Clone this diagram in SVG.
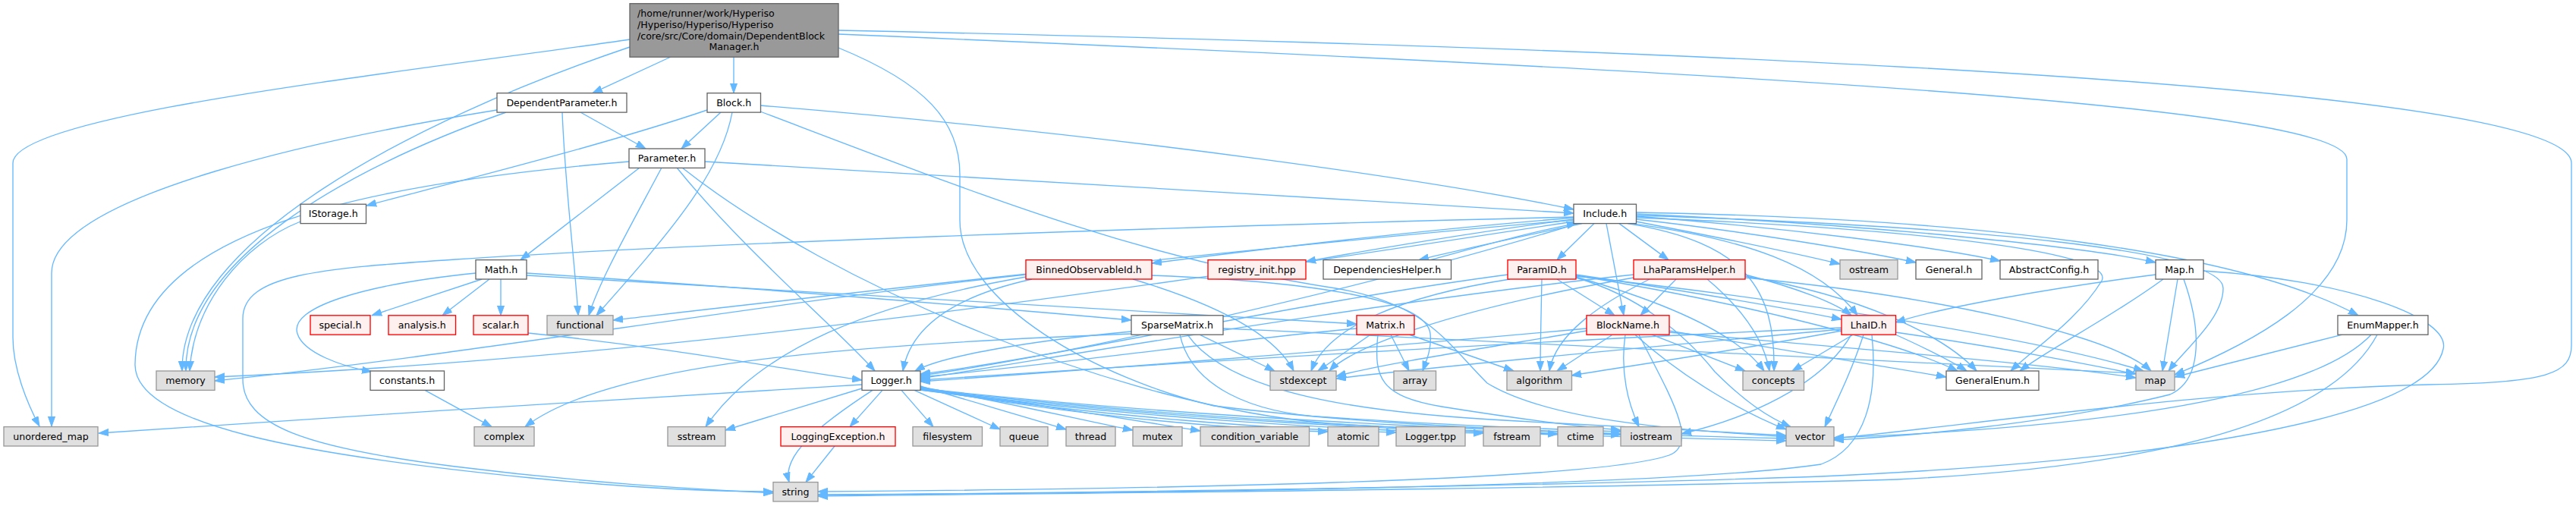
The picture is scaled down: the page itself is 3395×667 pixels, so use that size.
<svg xmlns="http://www.w3.org/2000/svg" width="3395" height="667" viewBox="0 0 3395 667">
<defs>
<style>
.n rect{fill:#ffffff;stroke:#666666;stroke-width:1.33}
.s rect{fill:#e0e0e0;stroke:#999999;stroke-width:1.33}
.r rect{fill:#fff0f0;stroke:#ff0000;stroke-width:1.33}
.m rect{fill:#999999;stroke:#666666;stroke-width:1.33}
text{font-family:"DejaVu Sans",sans-serif;font-size:12.6px;fill:#000000;text-anchor:middle}
.m text{text-anchor:start}
#edges path{fill:none;stroke:#63b8ff;stroke-width:1.33;marker-end:url(#a)}
</style>
<marker id="a" markerWidth="14" markerHeight="10" refX="13" refY="5" orient="auto" markerUnits="userSpaceOnUse"><path d="M0,0.4 L13,5 L0,9.6z" fill="#63b8ff" stroke="#63b8ff" stroke-width="1"/></marker>
</defs>
<rect width="3395" height="667" fill="#ffffff"/>
<g id="edges">
<path d="M830,52 C540,95 17,150 17,215 L17,445 C17,485 35,530 52,562"/>
<path d="M655,145 C450,178 68,255 68,360 L68,562"/>
<path d="M1136,507 C900,522 420,550 130,571"/>
<path d="M830,62 C540,160 238,320 240,489"/>
<path d="M667,148 C450,225 243,345 245,489"/>
<path d="M396,292 C320,322 255,400 250,489"/>
<path d="M884,75 L781,122.7"/>
<path d="M967,75 L967,122.7"/>
<path d="M1105,45 C2300,95 3093,140 3093,210 L3093,290 C3093,390 2960,455 2866,494"/>
<path d="M1105,40 C2600,72 3389,130 3389,215 L3389,455 C3389,492 3360,505 3200,507 C2900,515 2600,560 2417,578"/>
<path d="M1105,63 C1220,110 1265,160 1265,230 L1265,290 C1265,400 1450,500 1600,535 C1800,560 2000,566 2136,572"/>
<path d="M765,148 L851,196"/>
<path d="M741,148 C745,250 758,350 762,415.8"/>
<path d="M950,148 L898,196"/>
<path d="M932,145 C800,190 600,240 483,271"/>
<path d="M1002,139 C1500,180 1900,240 2074,276"/>
<path d="M965,148 C950,230 880,310 786,415.8"/>
<path d="M1002,147 C1300,260 1500,340 1760,380 C1880,400 1905,450 1960,505 C2050,560 2250,568 2354,576"/>
<path d="M929,213 C1400,240 1800,262 2074,281"/>
<path d="M843,221 L686,342.6"/>
<path d="M892,221 C980,330 1100,430 1153,489"/>
<path d="M829,213 C500,240 180,300 178,480 C176,560 400,600 700,630 C850,645 950,648 1019,648"/>
<path d="M872,221 C830,300 790,370 776,415.8"/>
<path d="M899,221 C1100,380 1480,535 1750,558 C2000,575 2250,578 2354,581"/>
<path d="M2074,286 C1500,300 900,322 600,342 C420,354 320,362 320,420 L320,500 C320,560 400,590 600,615 C800,640 950,646 1019,650"/>
<path d="M2074,287 C1850,305 1650,330 1518,347"/>
<path d="M2074,289 C1950,305 1800,330 1721,345"/>
<path d="M2085,294.6 C2000,313 1920,330 1870,342.6"/>
<path d="M1885,342.6 C1950,325 2020,305 2078,294.6"/>
<path d="M2101,294.6 L2052,342.6"/>
<path d="M2134,294.6 L2199,342.6"/>
<path d="M2117,294.6 L2140,415.8"/>
<path d="M2156,292 C2250,310 2350,330 2425,348"/>
<path d="M2156,289 C2300,305 2450,330 2525,346"/>
<path d="M2156,285 C2350,300 2550,325 2636,344"/>
<path d="M2156,282 C2450,295 2750,325 2841,346"/>
<path d="M2156,280 C2600,288 2950,330 3108,415.8"/>
<path d="M2150,294.6 C2300,315 2400,350 2448,415.8"/>
<path d="M2145,294.6 C2300,320 2340,380 2338,489"/>
<path d="M2156,287 C2500,300 2790,330 2770,370 C2740,420 2680,460 2650,489"/>
<path d="M2156,284 C2600,298 2930,330 2930,380 C2930,420 2880,460 2858,489"/>
<path d="M2074,290 C1600,330 1000,400 808,422"/>
<path d="M2074,292 C1500,380 900,470 283,497"/>
<path d="M2080,294.6 C1800,380 1400,470 1213,495"/>
<path d="M1360,368 C1260,390 1200,430 1190,489"/>
<path d="M1493,368 C1600,400 1680,440 1705,489"/>
<path d="M1352,362 C1000,400 600,470 283,502"/>
<path d="M1352,365 C1150,400 1000,460 930,562.6"/>
<path d="M1518,363 C1700,370 1880,390 1885,440 C1887,460 1880,475 1875,489"/>
<path d="M2052,368 L2128,415.8"/>
<path d="M2032,368 C2031,420 2030,460 2030,489"/>
<path d="M2077,362 C2200,380 2350,405 2427,421"/>
<path d="M2077,365 C2200,400 2290,440 2325,489"/>
<path d="M2077,366 C2160,390 2220,440 2260,490 C2300,530 2330,550 2360,562.6"/>
<path d="M2077,363 C2300,400 2500,450 2580,489"/>
<path d="M2077,364 C2400,400 2700,450 2825,489"/>
<path d="M1987,362 C1700,400 1400,470 1213,493"/>
<path d="M1990,368 C1850,390 1750,430 1728,489"/>
<path d="M2209,368 L2162,415.8"/>
<path d="M2174,368 C2110,400 2050,440 2042,489"/>
<path d="M2250,368 C2300,410 2325,450 2332,489"/>
<path d="M2300,362 C2370,380 2420,400 2440,415.8"/>
<path d="M2300,364 C2450,390 2560,440 2605,489"/>
<path d="M2300,366 C2550,390 2780,440 2835,489"/>
<path d="M2153,362 C1800,400 1400,470 1213,499"/>
<path d="M2153,366 C1900,410 1780,460 1752,489"/>
<path d="M2125,441.2 L2052,489"/>
<path d="M2177,441.2 L2300,489"/>
<path d="M2142,441.2 C2135,490 2145,530 2160,562.6"/>
<path d="M2155,441.2 C2220,500 2300,545 2354,566"/>
<path d="M2160,441.2 C2200,520 2240,585 2200,600 C2100,635 1500,645 1078,648"/>
<path d="M2091,433 C1800,460 1400,490 1213,503"/>
<path d="M2091,436 C1950,460 1820,480 1761,496"/>
<path d="M2200,436 C2350,460 2500,485 2565,497"/>
<path d="M2200,438 C2450,460 2700,480 2815,498"/>
<path d="M2442,441.2 L2362,489"/>
<path d="M2456,441.2 C2440,490 2420,530 2405,562.6"/>
<path d="M2440,441.2 C2400,510 2300,552 2216,572"/>
<path d="M2427,436 C2300,460 2150,482 2071,495"/>
<path d="M2427,434 C2200,455 1900,482 1761,499"/>
<path d="M2498,441 C2540,460 2570,475 2592,489"/>
<path d="M2498,438 C2650,460 2750,480 2815,493"/>
<path d="M2467,441.2 C2475,520 2460,590 2400,612 C2200,642 1500,650 1078,652"/>
<path d="M2427,432 C2000,450 1500,482 1213,501"/>
<path d="M2841,362 C2700,380 2560,405 2498,425"/>
<path d="M2851,368 C2780,420 2700,460 2662,489"/>
<path d="M2870,368 L2850,489"/>
<path d="M2878,368 C2900,430 2905,500 2860,520 C2700,560 2500,576 2417,580"/>
<path d="M2904,357 C3100,370 3230,420 3220,460 C3200,560 2800,610 2400,628 C1900,645 1300,650 1078,653"/>
<path d="M3087,441.2 L2866,497"/>
<path d="M3125,441.2 C3050,520 2800,562 2417,577"/>
<path d="M3133,441.2 C3080,540 2900,612 2500,632 C2000,646 1400,650 1078,654"/>
<path d="M1806,441.2 L1737,489"/>
<path d="M1833,441.2 L1857,489"/>
<path d="M1857,441 L1995,489"/>
<path d="M1788,433 C1600,450 1400,480 1213,497"/>
<path d="M1816,441.2 C1810,500 1820,522 1900,536 C2000,552 2080,562 2136,567"/>
<path d="M1581,441.2 L1680,489"/>
<path d="M1491,437 C1350,450 1240,470 1206,489"/>
<path d="M1555,441.2 C1570,510 1650,545 1750,550 C1900,560 2050,566 2136,569"/>
<path d="M1565,441.2 C1620,520 1800,545 2000,555 C2200,565 2300,570 2354,574"/>
<path d="M1612,433 C2100,455 2600,480 2815,492"/>
<path d="M1491,440 C1100,455 800,480 692,562.6"/>
<path d="M635,368 L490,415.8"/>
<path d="M645,368 L583,415.8"/>
<path d="M660,368 L660,415.8"/>
<path d="M627,360 C480,375 380,405 392,440 C400,465 450,483 490,490"/>
<path d="M694,360 C1000,380 1300,405 1491,422"/>
<path d="M694,363 C1100,385 1500,410 1788,427"/>
<path d="M696,439 C900,460 1050,490 1136,501"/>
<path d="M560,514.4 L648,562.6"/>
<path d="M1150,514.4 C1080,560 1030,600 1040,635.6"/>
<path d="M1136,512 L956,567"/>
<path d="M1163,514.4 L1120,562.6"/>
<path d="M1188,514.4 L1230,562.6"/>
<path d="M1205,514.4 L1318,566"/>
<path d="M1213,509 C1300,535 1360,552 1405,566"/>
<path d="M1213,510 C1350,535 1430,555 1493,567"/>
<path d="M1213,511 C1400,538 1500,555 1582,568"/>
<path d="M1213,512 C1400,545 1600,565 1750,569"/>
<path d="M1213,513 C1450,550 1700,567 1840,570"/>
<path d="M1213,514 C1500,552 1800,568 1955,571"/>
<path d="M1213,514 C1550,555 1900,569 2053,572"/>
<path d="M1213,513 C1600,557 1950,570 2136,573"/>
<path d="M1213,512 C1650,560 2100,572 2354,578"/>
<path d="M1100,588 L1062,635.6"/>
</g>
<g id="node-main" class="m"><rect x="830" y="4.7" width="275" height="70.5"/>
<text x="840" y="21.5">/home/runner/work/Hyperiso</text>
<text x="840" y="36.5">/Hyperiso/Hyperiso/Hyperiso</text>
<text x="840" y="51.5">/core/src/Core/domain/DependentBlock</text>
<text x="967.5" y="66" style="text-anchor:middle">Manager.h</text></g>
<g id="node-DependentParameter" class="n"><rect x="655" y="122.7" width="171" height="25.4"/><text x="740.5" y="139.9">DependentParameter.h</text></g>
<g id="node-Block" class="n"><rect x="932" y="122.7" width="70.5" height="25.4"/><text x="967.2" y="139.9">Block.h</text></g>
<g id="node-Parameter" class="n"><rect x="829" y="196" width="100" height="25.4"/><text x="879" y="213.2">Parameter.h</text></g>
<g id="node-IStorage" class="n"><rect x="396" y="269.2" width="86.5" height="25.4"/><text x="439.2" y="286.4">IStorage.h</text></g>
<g id="node-Include" class="n"><rect x="2074" y="269.2" width="82.5" height="25.4"/><text x="2115.2" y="286.4">Include.h</text></g>
<g id="node-Math" class="n"><rect x="627" y="342.6" width="67" height="25.4"/><text x="660.5" y="359.8">Math.h</text></g>
<g id="node-BinnedObservableId" class="r"><rect x="1352" y="342.6" width="166" height="25.4"/><text x="1435" y="359.8">BinnedObservableId.h</text></g>
<g id="node-registry_init" class="r"><rect x="1592" y="342.6" width="129" height="25.4"/><text x="1656.5" y="359.8">registry_init.hpp</text></g>
<g id="node-DependenciesHelper" class="n"><rect x="1744" y="342.6" width="168.5" height="25.4"/><text x="1828.2" y="359.8">DependenciesHelper.h</text></g>
<g id="node-ParamID" class="r"><rect x="1987" y="342.6" width="90" height="25.4"/><text x="2032" y="359.8">ParamID.h</text></g>
<g id="node-LhaParamsHelper" class="r"><rect x="2153" y="342.6" width="147" height="25.4"/><text x="2226.5" y="359.8">LhaParamsHelper.h</text></g>
<g id="node-ostream" class="s"><rect x="2425" y="342.6" width="76" height="25.4"/><text x="2463" y="359.8">ostream</text></g>
<g id="node-General" class="n"><rect x="2525" y="342.6" width="87" height="25.4"/><text x="2568.5" y="359.8">General.h</text></g>
<g id="node-AbstractConfig" class="n"><rect x="2636" y="342.6" width="129" height="25.4"/><text x="2700.5" y="359.8">AbstractConfig.h</text></g>
<g id="node-Map" class="n"><rect x="2841" y="342.6" width="63" height="25.4"/><text x="2872.5" y="359.8">Map.h</text></g>
<g id="node-special" class="r"><rect x="409" y="415.8" width="79" height="25.4"/><text x="448.5" y="433">special.h</text></g>
<g id="node-analysis" class="r"><rect x="512" y="415.8" width="88.5" height="25.4"/><text x="556.2" y="433">analysis.h</text></g>
<g id="node-scalar" class="r"><rect x="624" y="415.8" width="72" height="25.4"/><text x="660" y="433">scalar.h</text></g>
<g id="node-functional" class="s"><rect x="721" y="415.8" width="87" height="25.4"/><text x="764.5" y="433">functional</text></g>
<g id="node-SparseMatrix" class="n"><rect x="1491" y="415.8" width="121" height="25.4"/><text x="1551.5" y="433">SparseMatrix.h</text></g>
<g id="node-Matrix" class="r"><rect x="1788" y="415.8" width="76" height="25.4"/><text x="1826" y="433">Matrix.h</text></g>
<g id="node-BlockName" class="r"><rect x="2091" y="415.8" width="109" height="25.4"/><text x="2145.5" y="433">BlockName.h</text></g>
<g id="node-LhaID" class="r"><rect x="2427" y="415.8" width="71.5" height="25.4"/><text x="2462.7" y="433">LhaID.h</text></g>
<g id="node-EnumMapper" class="n"><rect x="3081" y="415.8" width="119" height="25.4"/><text x="3140.5" y="433">EnumMapper.h</text></g>
<g id="node-memory" class="s"><rect x="206" y="489" width="77" height="25.4"/><text x="244.5" y="506.2">memory</text></g>
<g id="node-constants" class="n"><rect x="488" y="489" width="97.5" height="25.4"/><text x="536.7" y="506.2">constants.h</text></g>
<g id="node-Logger" class="n"><rect x="1136" y="489" width="77" height="25.4"/><text x="1174.5" y="506.2">Logger.h</text></g>
<g id="node-stdexcept" class="s"><rect x="1674" y="489" width="87" height="25.4"/><text x="1717.5" y="506.2">stdexcept</text></g>
<g id="node-array" class="s"><rect x="1837" y="489" width="55.5" height="25.4"/><text x="1864.7" y="506.2">array</text></g>
<g id="node-algorithm" class="s"><rect x="1986" y="489" width="85.5" height="25.4"/><text x="2028.7" y="506.2">algorithm</text></g>
<g id="node-concepts" class="s"><rect x="2297" y="489" width="80.5" height="25.4"/><text x="2337.2" y="506.2">concepts</text></g>
<g id="node-GeneralEnum" class="n"><rect x="2565" y="489" width="122" height="25.4"/><text x="2626" y="506.2">GeneralEnum.h</text></g>
<g id="node-map" class="s"><rect x="2815" y="489" width="51" height="25.4"/><text x="2840.5" y="506.2">map</text></g>
<g id="node-unordered_map" class="s"><rect x="5" y="562.6" width="124" height="25.4"/><text x="67" y="579.8">unordered_map</text></g>
<g id="node-complex" class="s"><rect x="625" y="562.6" width="79" height="25.4"/><text x="664.5" y="579.8">complex</text></g>
<g id="node-sstream" class="s"><rect x="880" y="562.6" width="76" height="25.4"/><text x="918" y="579.8">sstream</text></g>
<g id="node-LoggingException" class="r"><rect x="1029" y="562.6" width="151" height="25.4"/><text x="1104.5" y="579.8">LoggingException.h</text></g>
<g id="node-filesystem" class="s"><rect x="1203" y="562.6" width="91.5" height="25.4"/><text x="1248.7" y="579.8">filesystem</text></g>
<g id="node-queue" class="s"><rect x="1318" y="562.6" width="63" height="25.4"/><text x="1349.5" y="579.8">queue</text></g>
<g id="node-thread" class="s"><rect x="1405" y="562.6" width="65" height="25.4"/><text x="1437.5" y="579.8">thread</text></g>
<g id="node-mutex" class="s"><rect x="1493" y="562.6" width="65" height="25.4"/><text x="1525.5" y="579.8">mutex</text></g>
<g id="node-condition_variable" class="s"><rect x="1582" y="562.6" width="143.5" height="25.4"/><text x="1653.7" y="579.8">condition_variable</text></g>
<g id="node-atomic" class="s"><rect x="1750" y="562.6" width="67" height="25.4"/><text x="1783.5" y="579.8">atomic</text></g>
<g id="node-Loggertpp" class="s"><rect x="1840" y="562.6" width="91" height="25.4"/><text x="1885.5" y="579.8">Logger.tpp</text></g>
<g id="node-fstream" class="s"><rect x="1955" y="562.6" width="75" height="25.4"/><text x="1992.5" y="579.8">fstream</text></g>
<g id="node-ctime" class="s"><rect x="2053" y="562.6" width="60" height="25.4"/><text x="2083" y="579.8">ctime</text></g>
<g id="node-iostream" class="s"><rect x="2136" y="562.6" width="80" height="25.4"/><text x="2176" y="579.8">iostream</text></g>
<g id="node-vector" class="s"><rect x="2354" y="562.6" width="63" height="25.4"/><text x="2385.5" y="579.8">vector</text></g>
<g id="node-string" class="s"><rect x="1019" y="635.6" width="59" height="25.4"/><text x="1048.5" y="652.8">string</text></g>
</svg>
